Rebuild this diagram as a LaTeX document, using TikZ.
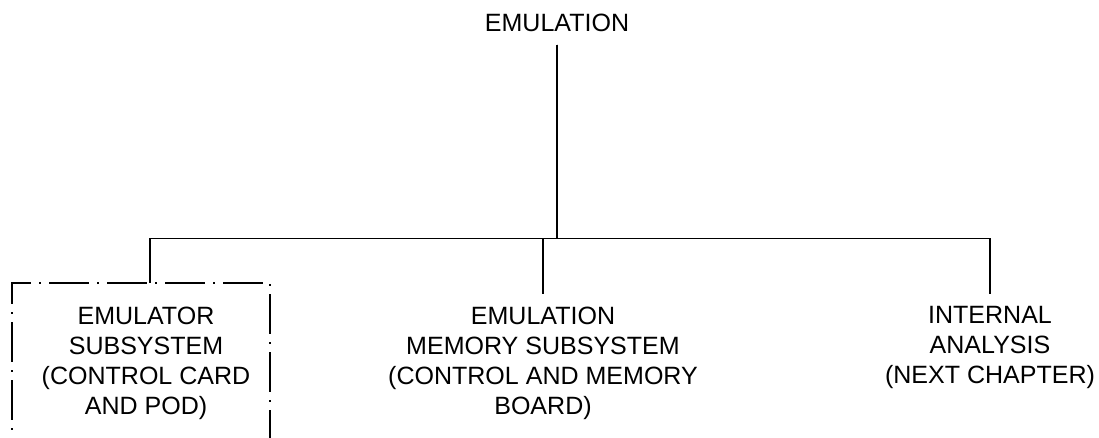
\documentclass[tikz,border=0pt]{standalone}
\usepackage{fontspec}
\setmainfont{Liberation Sans}
\usetikzlibrary{positioning, calc}
\newcommand{\branch}[3]
{
	\draw (#3.south) -- +(0,#1) -| (#2)
}

\begin{document}
\begin{tikzpicture}[x=0.025cm, y=-0.025cm, line width=1.1pt,
every node/.append style={shape=rectangle, align=center, inner sep=0pt,
font=\fontsize{17.8}{21.3}\selectfont},
child/.style={anchor=north, inner ysep=0.3cm},
dashdot/.style={dash pattern=on 1cm off 0.2cm on 0.05cm off 0.2cm, dash phase=0.95cm}]
\useasboundingbox (0,0) rectangle (1099,438);

\node[inner sep=0.3cm] at (557,23) (EMU){EMULATION};

\node[child] at (146,294) (ES){EMULATOR\\SUBSYSTEM\\(CONTROL CARD\\AND POD)};
\node[child] at (543,294) (EMS){EMULATION\\MEMORY SUBSYSTEM\\(CONTROL AND MEMORY\\BOARD)};
\node[child] at (990,294) (IA){INTERNAL\\ANALYSIS\\(NEXT CHAPTER)};

% open frame round the emulator subsystem
\coordinate (ESbox) at (150,283);
\draw[dashdot] (12,440) |- (ESbox) -| (270,440);

\branch{194}{ESbox}{EMU};
\branch{194}{EMS.north}{EMU};
\branch{194}{IA.north}{EMU};
\end{tikzpicture}
\end{document}
